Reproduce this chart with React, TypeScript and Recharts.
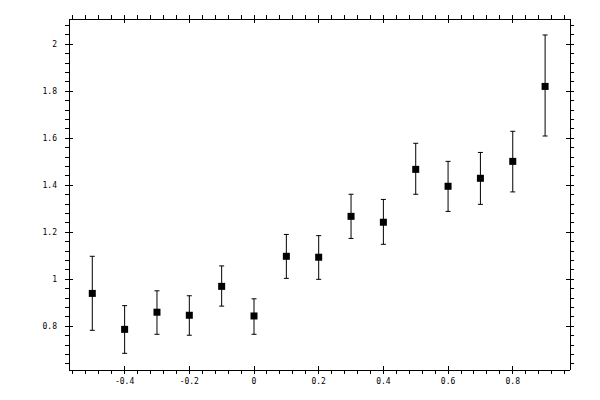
import React from 'react';
import { ScatterChart, Scatter, XAxis, YAxis, ErrorBar } from 'recharts';

const xValues = [-0.5, -0.4, -0.3, -0.2, -0.1, 0, 0.1, 0.2, 0.3, 0.4, 0.5, 0.6, 0.7, 0.8, 0.9];
const yValues = [0.94, 0.787, 0.86, 0.847, 0.97, 0.844, 1.098, 1.094, 1.268, 1.243, 1.468, 1.396, 1.43, 1.502, 1.821];
const yUpper = [1.098, 0.888, 0.951, 0.93, 1.057, 0.917, 1.191, 1.186, 1.362, 1.34, 1.579, 1.502, 1.54, 1.63, 2.04];
const yLower = [0.783, 0.685, 0.766, 0.762, 0.886, 0.766, 1.004, 1.0, 1.174, 1.149, 1.362, 1.289, 1.319, 1.372, 1.61];

const xMajorTicks = [-0.4, -0.2, 0, 0.2, 0.4, 0.6, 0.8];
const xTickLabels = ['-0.4', '-0.2', '0', '0.2', '0.4', '0.6', '0.8'];
const yMajorTicks = [0.8, 1, 1.2, 1.4, 1.6, 1.8, 2];
const yTickLabels = ['0.8', '1', '1.2', '1.4', '1.6', '1.8', '2'];

const xDomain: [number, number] = [-0.572, 0.977];
const yDomain: [number, number] = [0.614, 2.108];
const minorStep = 0.04;

const buildTicks = (lo: number, hi: number) => {
  const out: number[] = [];
  const start = Math.ceil(lo / minorStep - 1e-9);
  const end = Math.floor(hi / minorStep + 1e-9);
  for (let k = start; k <= end; k++) out.push(Math.round(k * minorStep * 100) / 100);
  return out;
};
const xAllTicks = buildTicks(xDomain[0], xDomain[1]);
const yAllTicks = buildTicks(yDomain[0], yDomain[1]);

const data = xValues.map((x, i) => ({
  x,
  y: yValues[i],
  err: [yValues[i] - yLower[i], yUpper[i] - yValues[i]],
}));

const findIdx = (arr: number[], v: number) => arr.findIndex((a) => Math.abs(a - v) < 1e-6);

const FONT = { fontFamily: '"DejaVu Sans Mono", monospace', fontSize: 8, fill: '#000' };
const LN = { stroke: '#000', strokeWidth: 1, shapeRendering: 'crispEdges' as const };

const BottomTick = (p: any) => {
  const { x, y, payload } = p;
  const i = findIdx(xMajorTicks, payload.value);
  if (i >= 0)
    return (
      <g>
        <line x1={x} x2={x} y1={y - 4} y2={y + 4} {...LN} />
        <text x={x} y={y + 14} textAnchor="middle" {...FONT}>{xTickLabels[i]}</text>
      </g>
    );
  return <line x1={x} x2={x} y1={y} y2={y + 4} {...LN} />;
};

const TopTick = (p: any) => {
  const { x, y, payload } = p;
  const i = findIdx(xMajorTicks, payload.value);
  if (i >= 0) return <line x1={x} x2={x} y1={y - 4} y2={y + 4} {...LN} />;
  return <line x1={x} x2={x} y1={y - 4} y2={y} {...LN} />;
};

const LeftTick = (p: any) => {
  const { x, y, payload } = p;
  const i = findIdx(yMajorTicks, payload.value);
  if (i >= 0)
    return (
      <g>
        <line x1={x - 4} x2={x + 4} y1={y} y2={y} {...LN} />
        <text x={x - 12} y={y} dy={3} textAnchor="end" {...FONT}>{yTickLabels[i]}</text>
      </g>
    );
  return <line x1={x - 4} x2={x} y1={y} y2={y} {...LN} />;
};

const RightTick = (p: any) => {
  const { x, y, payload } = p;
  const i = findIdx(yMajorTicks, payload.value);
  if (i >= 0) return <line x1={x - 4} x2={x + 4} y1={y} y2={y} {...LN} />;
  return <line x1={x} x2={x + 4} y1={y} y2={y} {...LN} />;
};

const SquareShape = (p: any) => {
  const { cx, cy } = p;
  if (cx == null || cy == null) return null;
  return <rect x={cx - 3.5} y={cy - 3.5} width={7} height={7} fill="#000" />;
};

const NoShape = () => <g />;

export default function App() {
  return (
    <div style={{ position: 'absolute', left: 0, top: 0, width: 600, height: 400, background: '#fff' }}>
      <ScatterChart width={600} height={400} margin={{ top: 18, right: 29, left: 0, bottom: 0 }}>
        <XAxis
          dataKey="x"
          type="number"
          domain={xDomain}
          allowDataOverflow
          ticks={xAllTicks}
          interval={0}
          height={30}
          tickSize={0}
          tickMargin={0}
          tickLine={false}
          axisLine={{ stroke: '#000', shapeRendering: 'crispEdges' }}
          tick={<BottomTick />}
        />
        <XAxis
          xAxisId="top"
          dataKey="x"
          orientation="top"
          type="number"
          domain={xDomain}
          allowDataOverflow
          ticks={xAllTicks}
          interval={0}
          height={1}
          tickSize={0}
          tickMargin={0}
          tickLine={false}
          axisLine={{ stroke: '#000', shapeRendering: 'crispEdges' }}
          tick={<TopTick />}
        />
        <YAxis
          dataKey="y"
          type="number"
          domain={yDomain}
          allowDataOverflow
          ticks={yAllTicks}
          interval={0}
          width={69}
          tickSize={0}
          tickMargin={0}
          tickLine={false}
          axisLine={{ stroke: '#000', shapeRendering: 'crispEdges' }}
          tick={<LeftTick />}
        />
        <YAxis
          yAxisId="right"
          dataKey="y"
          orientation="right"
          type="number"
          domain={yDomain}
          allowDataOverflow
          ticks={yAllTicks}
          interval={0}
          width={1}
          tickSize={0}
          tickMargin={0}
          tickLine={false}
          axisLine={{ stroke: '#000', shapeRendering: 'crispEdges' }}
          tick={<RightTick />}
        />
        <Scatter data={data} isAnimationActive={false} shape={<SquareShape />}>
          <ErrorBar dataKey="err" direction="y" width={2.5} stroke="#000" strokeWidth={1} isAnimationActive={false} />
        </Scatter>
        <Scatter data={data} xAxisId="top" yAxisId="right" isAnimationActive={false} shape={<NoShape />} />
      </ScatterChart>
    </div>
  );
}
